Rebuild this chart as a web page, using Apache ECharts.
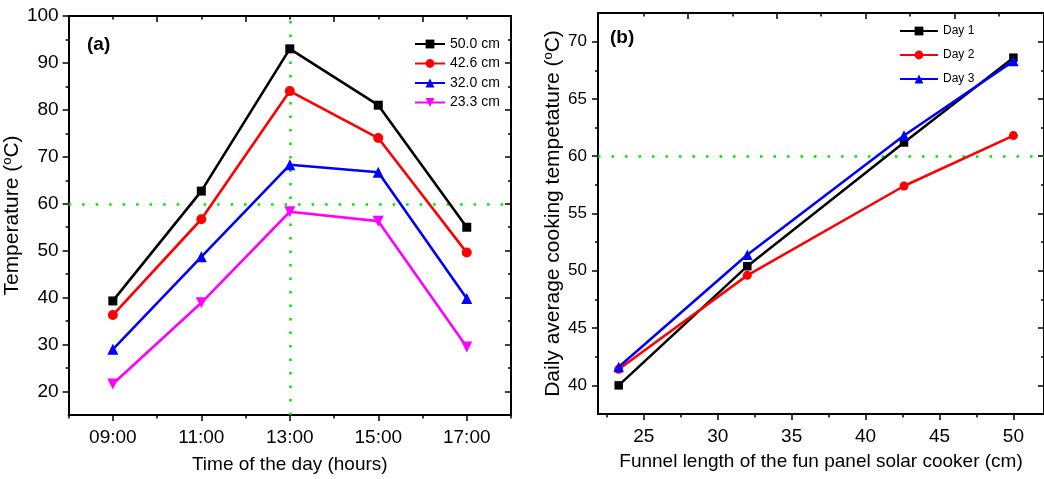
<!DOCTYPE html>
<html>
<head>
<meta charset="utf-8">
<script src="https://cdn.jsdelivr.net/npm/echarts@6/dist/echarts.min.js"></script>
<style>
html,body{margin:0;padding:0;background:#fff;}
#chart{width:1044px;height:479px;}
</style>
</head>
<body>
<div id="chart"></div>
<script>
// ---- data (panel a) ----
const hours = [9, 11, 13, 15, 17];
const hourLabels = ['09:00', '11:00', '13:00', '15:00', '17:00'];
const len500 = [39.3, 62.7, 93.0, 81.0, 55.0];
const len426 = [36.3, 56.7, 84.0, 74.0, 49.6];
const len320 = [29.0, 48.7, 68.3, 66.7, 39.8];
const len233 = [21.6, 38.9, 58.3, 56.3, 29.5];
const namesA = ['50.0 cm', '42.6 cm', '32.0 cm', '23.3 cm'];

// ---- data (panel b) ----
const funnel = [23.3, 32.0, 42.6, 50.0];
const day1 = [40.0, 50.4, 61.2, 68.6];
const day2 = [41.4, 49.6, 57.4, 61.8];
const day3 = [41.6, 51.4, 61.8, 68.3];
const namesB = ['Day 1', 'Day 2', 'Day 3'];

// ---- tick values ----
const aYLabels = [20, 30, 40, 50, 60, 70, 80, 90, 100];
const aYMinor = [25, 35, 45, 55, 65, 75, 85, 95];
const aXMinor = [8, 10, 12, 14, 16, 18];
const aTopMajor = [8, 10, 12, 14, 16, 18];
const aTopMinor = [9, 11, 13, 15, 17];
const bXLabels = [25, 30, 35, 40, 45, 50];
const bXMinor = [22.5, 27.5, 32.5, 37.5, 42.5, 47.5];
const bTopMajor = [28, 34, 40, 46];
const bTopMinor = [25, 31, 37, 43, 49];
const bYLabels = [40, 45, 50, 55, 60, 65, 70];
const bYMinor = [42.5, 47.5, 52.5, 57.5, 62.5, 67.5];
const threshold = 60;
const noonHour = 13;

const FONT = '"Liberation Sans", Arial, Helvetica, sans-serif';
const BLACK = '#000';
const GREEN = '#00e600';

function axis(gi, pos, min, max, ticks, len, inside, extra) {
  const a = {
    type: 'value', gridIndex: gi, position: pos, min: min, max: max, offset: 0,
    splitLine: { show: false },
    axisLine: { show: false, onZero: false, lineStyle: { color: BLACK, width: 2 } },
    axisLabel: { show: false },
    axisTick: { show: true, customValues: ticks, length: len, inside: inside,
                lineStyle: { color: BLACK, width: 1.5 } }
  };
  return Object.assign(a, extra || {});
}
const frameLine = { show: true, onZero: false, lineStyle: { color: BLACK, width: 2 } };

const BXMAX = 52.07;

const xAxes = [
  // panel a
  axis(0, 'bottom', 8, 18, hours, 6, false, {
    axisLine: frameLine,
    axisLabel: { show: true, customValues: hours, margin: 13, fontSize: 19, color: BLACK, fontFamily: FONT,
                 formatter: v => hourLabels[hours.indexOf(v)] },
    name: 'Time of the day (hours)', nameLocation: 'middle', nameGap: 40,
    nameTextStyle: { fontSize: 19, color: BLACK, fontFamily: FONT }
  }),
  axis(0, 'bottom', 8, 18, aXMinor, 3.5, false),
  axis(0, 'top', 8, 18, aTopMajor, 6, true, { axisLine: frameLine }),
  axis(0, 'top', 8, 18, aTopMinor, 3.5, true),
  // panel b
  axis(1, 'bottom', 21.9, BXMAX, bXLabels, 6, false, {
    axisLine: frameLine,
    axisLabel: { show: true, customValues: bXLabels, margin: 13, fontSize: 19, color: BLACK, fontFamily: FONT },
    name: 'Funnel length of the fun panel solar cooker (cm)', nameLocation: 'middle', nameGap: 38,
    nameTextStyle: { fontSize: 19, color: BLACK, fontFamily: FONT }
  }),
  axis(1, 'bottom', 21.9, BXMAX, bXMinor, 3.5, false),
  axis(1, 'top', 21.9, BXMAX, bTopMajor, 6, true, { axisLine: frameLine }),
  axis(1, 'top', 21.9, BXMAX, bTopMinor, 3.5, true)
];

const supRich = { sup: { fontSize: 13, verticalAlign: 'top', lineHeight: 22, padding: [0, 0, 0, 0] } };

const yAxes = [
  // panel a
  axis(0, 'left', 15, 100, aYLabels, 6, false, {
    axisLine: frameLine,
    axisLabel: { show: true, customValues: aYLabels, margin: 10, fontSize: 19, color: BLACK, fontFamily: FONT },
    name: 'Temperature ({sup|o}C)', nameLocation: 'middle', nameGap: 36,
    nameTextStyle: { fontSize: 21, color: BLACK, fontFamily: FONT, lineHeight: 22, rich: supRich }
  }),
  axis(0, 'left', 15, 100, aYMinor, 3, false),
  axis(0, 'right', 15, 100, aYLabels, 6, true, { axisLine: frameLine }),
  axis(0, 'right', 15, 100, aYMinor, 3, true),
  // panel b
  axis(1, 'left', 37.5, 72.5, bYLabels, 6, false, {
    axisLine: frameLine,
    axisLabel: { show: true, customValues: bYLabels, margin: 11, fontSize: 17, color: BLACK, fontFamily: FONT },
    name: 'Daily average cooking tempetature ({sup|o}C)', nameLocation: 'middle', nameGap: 33,
    nameTextStyle: { fontSize: 21, color: BLACK, fontFamily: FONT, lineHeight: 22, rich: supRich }
  }),
  axis(1, 'left', 37.5, 72.5, bYMinor, 3, false),
  axis(1, 'right', 37.5, 72.5, bYLabels, 6, true, { axisLine: frameLine }),
  axis(1, 'right', 37.5, 72.5, bYMinor, 3, true)
];

function pairs(xs, ys) { return xs.map((x, i) => [x, ys[i]]); }

const dotted = { color: GREEN, width: 2.5, type: [2.5, 11] };

function lineSeries(name, xs, ys, color, symbol, size, width, xi, yi, extra) {
  return Object.assign({
    name: name, type: 'line', xAxisIndex: xi, yAxisIndex: yi,
    data: pairs(xs, ys), symbol: symbol, symbolSize: size,
    lineStyle: { color: color, width: width },
    itemStyle: { color: color },
    emphasis: { disabled: true }
  }, extra || {});
}

const series = [
  lineSeries(namesA[0], hours, len500, '#000000', 'rect', 9, 2.6, 0, 0, {
    markLine: {
      silent: true, symbol: ['none', 'none'], label: { show: false },
      lineStyle: dotted, z: 1,
      data: [{ yAxis: threshold }, { xAxis: noonHour }]
    }
  }),
  lineSeries(namesA[1], hours, len426, '#ff0000', 'circle', 10, 2.6, 0, 0),
  lineSeries(namesA[2], hours, len320, '#0000ff', 'triangle', 11, 2.6, 0, 0),
  lineSeries(namesA[3], hours, len233, '#ff00ff', 'triangle', 11, 2.6, 0, 0, { symbolRotate: 180 }),
  lineSeries(namesB[0], funnel, day1, '#000000', 'rect', 8.5, 2.5, 4, 4, {
    markLine: {
      silent: true, symbol: ['none', 'none'], label: { show: false },
      lineStyle: dotted, z: 1,
      data: [{ yAxis: threshold }]
    }
  }),
  lineSeries(namesB[1], funnel, day2, '#ff0000', 'circle', 9, 2.5, 4, 4),
  lineSeries(namesB[2], funnel, day3, '#0000ff', 'triangle', 10.5, 2.5, 4, 4)
];

const option = {
  animation: false,
  backgroundColor: '#fff',
  textStyle: { fontFamily: FONT },
  title: [
    { text: '(a)', left: 87, top: 35, padding: 0,
      textStyle: { fontSize: 19, fontWeight: 'bold', color: BLACK, fontFamily: FONT } },
    { text: '(b)', left: 610, top: 28, padding: 0,
      textStyle: { fontSize: 19, fontWeight: 'bold', color: BLACK, fontFamily: FONT } }
  ],
  legend: [
    { data: namesA, orient: 'vertical', left: 414, top: 37, padding: 0,
      itemWidth: 30, itemHeight: 11, itemGap: 5.5, selectedMode: false,
      textStyle: { fontSize: 14, lineHeight: 14, color: BLACK, fontFamily: FONT } },
    { data: namesB, orient: 'vertical', left: 899, top: 25, padding: 0,
      itemWidth: 38, itemHeight: 11, itemGap: 12, selectedMode: false,
      textStyle: { fontSize: 12, lineHeight: 12, color: BLACK, fontFamily: FONT } }
  ],
  grid: [
    { left: 67, top: 16, width: 444, height: 400 },
    { left: 598, top: 13, width: 449, height: 401 }
  ],
  xAxis: xAxes,
  yAxis: yAxes,
  series: series
};

const chart = echarts.init(document.getElementById('chart'), null, { renderer: 'canvas' });
chart.setOption(option);
</script>
</body>
</html>
